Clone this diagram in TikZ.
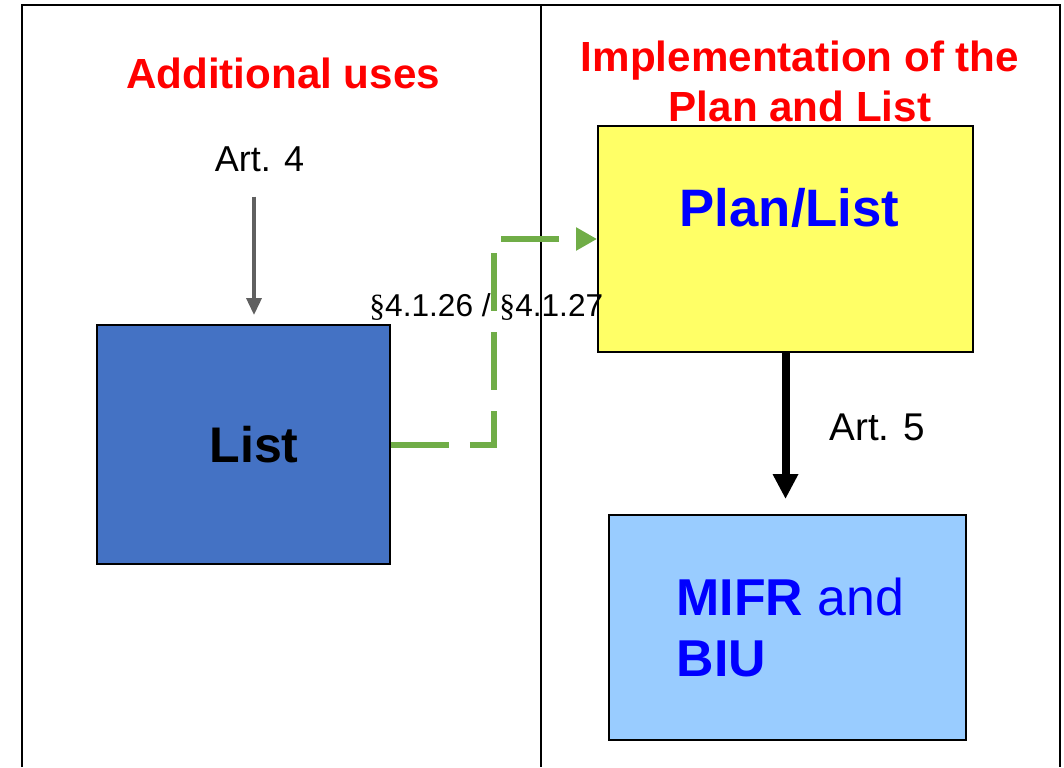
\documentclass[tikz,border=0pt]{standalone}
\usepackage{fontspec}
\setmainfont{Liberation Sans}
\newfontfamily\paraserif{Liberation Serif}
\usepackage{xcolor}
\usetikzlibrary{arrows.meta, positioning}
\definecolor{listblue}{HTML}{4472C4}
\definecolor{planyellow}{HTML}{FFFF66}
\definecolor{mifrblue}{HTML}{99CCFF}
\definecolor{pathgreen}{HTML}{70AD47}
\definecolor{pathgray}{HTML}{606060}
\tikzstyle{heading} = [inner sep=0pt, text=red, font=\bfseries\fontsize{24}{28.5}\selectfont]
\tikzstyle{artlabel} = [inner sep=0pt, font=\fontsize{22}{26}\selectfont]
\tikzstyle{listbox} = [rectangle, draw=black, line width=0.04cm, fill=listblue, minimum width=5.86cm, minimum height=4.78cm, font=\bfseries\fontsize{28.5}{34}\selectfont]
\tikzstyle{planbox} = [rectangle, draw=black, line width=0.04cm, fill=planyellow, minimum width=7.5cm, minimum height=4.52cm]
\tikzstyle{mifrbox} = [rectangle, draw=black, line width=0.04cm, fill=mifrblue, minimum width=7.14cm, minimum height=4.5cm, text=blue, align=left, font=\fontsize{29.5}{35}\selectfont]
\tikzstyle{grayarrow} = [line width=0.07cm, draw=pathgray, -{Triangle[length=0.34cm, width=0.3cm]}]
\tikzstyle{blackarrow} = [line width=0.16cm, -{Triangle[length=0.5cm, width=0.48cm]}]
\tikzstyle{greenarrow} = [line width=0.12cm, draw=pathgreen, dash pattern=on 1.16cm off 0.42cm, -{Triangle[length=0.42cm, width=0.44cm]}]

\begin{document}
\begin{tikzpicture}[x=0.02cm, y=-0.02cm]
\useasboundingbox (0,0) rectangle (1064,767);

% Frame and column divider
\draw [line width=0.04cm] (22,767) -- (22,5) -- (1060,5) -- (1060,767);
\draw [line width=0.04cm] (541,5) -- (541,767);

% Left column
\node (uses) [heading, anchor=base] at (283,89) {Additional uses};
\node (art4) [artlabel, anchor=base, font=\fontsize{20.5}{24}\selectfont] at (259.5,171) {Art. 4};
\node (list) [listbox] at (243.5,444.5) {\hspace*{0.42cm}List};

% Right column
\node (impl) [heading, align=center, anchor=north] at (800,41) {Implementation of the\\Plan and List};
\node (plan) [planbox, label={[xshift=0.08cm, yshift=0.62cm, text=blue, font=\bfseries\fontsize{30}{36}\selectfont]center:Plan/List}] at (785.5,239) {};
\node (mifr) [mifrbox] at (787.5,627.5) {\hspace*{0.12cm}\textbf{MIFR} and\\\hspace*{0.12cm}\textbf{BIU}};

% Arrows
\draw [grayarrow, shorten <=0.5cm, shorten >=0.18cm] ([xshift=-0.11cm]art4.south) -- ([xshift=-0.11cm]art4.south |- list.north);
\draw [blackarrow, shorten >=0.3cm] (plan.south) -- node[artlabel, right, xshift=0.8cm, yshift=0.12cm] {Art. 5} (plan.south |- mifr.north);
\draw [greenarrow] (list.east) -- ++(103,0) |- (plan.west);
\node (para) [anchor=base west, inner sep=0pt, font=\fontsize{18}{22}\selectfont] at (369,316) {{\paraserif\S}4.1.26 / {\paraserif\S}4.1.27};

\end{tikzpicture}
\end{document}
